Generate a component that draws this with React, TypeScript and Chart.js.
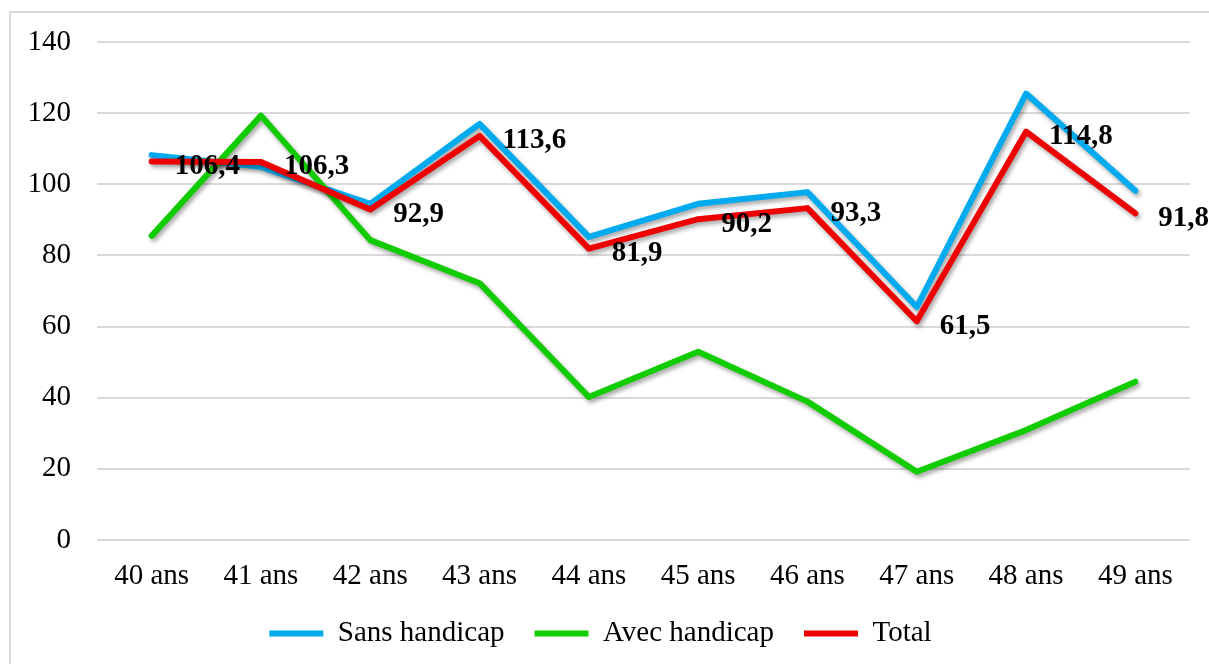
import React, { useEffect, useRef } from "react";
import { Chart, registerables } from "chart.js";

Chart.register(...registerables);

const categories = ["40 ans", "41 ans", "42 ans", "43 ans", "44 ans", "45 ans", "46 ans", "47 ans", "48 ans", "49 ans"];
const sansHandicap = [108.2, 104.9, 94.5, 117, 85.2, 94.5, 97.8, 65.5, 125.5, 98.2];
const avecHandicap = [85.5, 119.3, 84.3, 72.2, 40.2, 52.9, 38.9, 19.2, 30.9, 44.5];
const total = [106.4, 106.3, 92.9, 113.6, 81.9, 90.2, 93.3, 61.5, 114.8, 91.8];
const yTicks = [0, 20, 40, 60, 80, 100, 120, 140];

const SERIF = "'Liberation Serif', 'Times New Roman', serif";
const FONT_SIZE = 29;

const shadowPlugin = {
  id: "lineShadow",
  beforeDatasetDraw(chart: any) {
    const ctx = chart.ctx;
    ctx.save();
    ctx.shadowColor = "rgba(0,0,0,0.35)";
    ctx.shadowBlur = 4;
    ctx.shadowOffsetX = 2;
    ctx.shadowOffsetY = 3;
  },
  afterDatasetDraw(chart: any) {
    chart.ctx.restore();
  },
};

const labelPlugin = {
  id: "totalLabels",
  afterDatasetsDraw(chart: any) {
    const ctx = chart.ctx;
    const idx = 2;
    const meta = chart.getDatasetMeta(idx);
    const data = chart.data.datasets[idx].data as number[];
    ctx.save();
    ctx.font = `bold ${FONT_SIZE}px ${SERIF}`;
    ctx.fillStyle = "#000000";
    ctx.textAlign = "left";
    ctx.textBaseline = "middle";
    meta.data.forEach((pt: any, i: number) => {
      const txt = data[i].toFixed(1).replace(".", ",");
      ctx.fillText(txt, pt.x + 23, pt.y + 5);
    });
    ctx.restore();
  },
};

export default function App() {
  const canvasRef = useRef<HTMLCanvasElement | null>(null);

  useEffect(() => {
    if (!canvasRef.current) return;
    const mk = (label: string, data: number[], color: string, order: number) => ({
      label,
      data,
      borderColor: color,
      backgroundColor: color,
      borderWidth: 6,
      pointRadius: 0,
      pointHoverRadius: 0,
      borderCapStyle: "round" as const,
      borderJoinStyle: "round" as const,
      tension: 0,
      order,
    });
    const chart = new Chart(canvasRef.current, {
      type: "line",
      data: {
        labels: categories,
        datasets: [
          mk("Sans handicap", sansHandicap, "#00AAEF", 3),
          mk("Avec handicap", avecHandicap, "#11CC00", 2),
          mk("Total", total, "#EE0000", 1),
        ],
      },
      options: {
        animation: false,
        responsive: false,
        devicePixelRatio: 1,
        layout: { padding: { left: 0, right: 19, top: 29, bottom: 6 } },
        plugins: {
          tooltip: { enabled: false },
          legend: {
            position: "bottom",
            labels: {
              usePointStyle: true,
              pointStyle: "line",
              pointStyleWidth: 54,
              boxHeight: FONT_SIZE,
              padding: 30,
              color: "#000000",
              font: { family: SERIF, size: FONT_SIZE },
              sort: (a: any, b: any) => a.datasetIndex - b.datasetIndex,
            },
          },
        },
        scales: {
          x: {
            offset: true,
            grid: { display: false, drawTicks: false, offset: true },
            border: { display: false },
            ticks: { color: "#000000", font: { family: SERIF, size: FONT_SIZE }, padding: 19, maxRotation: 0, autoSkip: false },
            afterFit: (s: any) => {
              s.height = 49;
            },
          },
          y: {
            min: 0,
            max: 140,
            afterBuildTicks: (s: any) => {
              s.ticks = yTicks.map((v) => ({ value: v }));
            },
            grid: { color: "#d9d9d9", lineWidth: 2, drawTicks: true, tickLength: 26, tickColor: "rgba(0,0,0,0)" },
            border: { display: false },
            ticks: { color: "#000000", font: { family: SERIF, size: FONT_SIZE }, padding: 0 },
            afterFit: (s: any) => {
              s.width = 86;
            },
          },
        },
      },
      plugins: [shadowPlugin, labelPlugin],
    });
    return () => chart.destroy();
  }, []);

  return (
    <div
      style={{
        position: "absolute",
        left: 9,
        top: 11,
        width: 1198,
        height: 651,
        borderLeft: "2px solid #d9d9d9",
        borderTop: "2px solid #d9d9d9",
        background: "#ffffff",
      }}
    >
      <canvas ref={canvasRef} width={1198} height={651} style={{ display: "block" }} />
    </div>
  );
}
